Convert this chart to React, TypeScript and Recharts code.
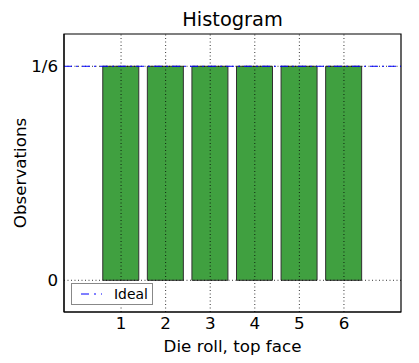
import React from "react";
import { ComposedChart, Bar, XAxis, YAxis, ReferenceLine, ReferenceArea } from "recharts";

const faces = [1, 2, 3, 4, 5, 6];
const observed = [1 / 6, 1 / 6, 1 / 6, 1 / 6, 1 / 6, 1 / 6];
const ideal = 1 / 6;
const yTicks = [0, 1 / 6];
const yTickLabels = ["0", "1/6"];
const xDomain = [-0.28, 7.28];
const yDomain = [-0.0247, 0.1918];

const data = faces.map((f, i) => ({ face: f, obs: observed[i] }));

const FONT = "'DejaVu Sans', sans-serif";

function IdealLegend() {
  return (
    <div
      style={{
        position: "absolute",
        left: 71,
        top: 283,
        width: 82,
        height: 22,
        border: "1px solid #888",
        background: "#fff",
        boxSizing: "border-box",
        fontFamily: FONT,
        fontSize: 13.9,
        display: "flex",
        alignItems: "center",
      }}
    >
      <svg width={34} height={10} style={{ marginLeft: 8 }}>
        <line x1={1} y1={5} x2={22} y2={5} stroke="#0000ff" strokeDasharray="8 5 2 5" />
      </svg>
      <span>Ideal</span>
    </div>
  );
}

export default function App() {
  return (
    <div style={{ position: "fixed", left: 0, top: 0, width: 419, height: 363, background: "#fff" }}>
      <div
        style={{
          position: "absolute",
          left: 64,
          width: 337,
          top: 8,
          textAlign: "center",
          fontFamily: FONT,
          fontSize: 19.4,
        }}
      >
        Histogram
      </div>
      <ComposedChart
        width={419}
        height={363}
        data={data}
        margin={{ top: 34, right: 18, left: 0, bottom: 0 }}
      >
        <XAxis
          dataKey="face"
          type="number"
          domain={xDomain}
          ticks={faces}
          allowDataOverflow
          height={51}
          tickLine={false}
          axisLine={{ stroke: "#000", strokeWidth: 1 }}
          tick={{ fill: "#000", fontSize: 16.7, fontFamily: FONT }}
          tickMargin={-1}
          label={{
            value: "Die roll, top face",
            position: "insideBottom",
            offset: 11,
            fill: "#000",
            fontSize: 16.7,
            fontFamily: FONT,
          }}
        />
        <YAxis
          type="number"
          domain={yDomain}
          ticks={yTicks}
          allowDataOverflow
          width={64}
          tickLine={false}
          axisLine={{ stroke: "#000", strokeWidth: 1 }}
          tick={{ fill: "#000", fontSize: 16.7, fontFamily: FONT }}
          tickMargin={0}
          tickFormatter={(v: number) => yTickLabels[yTicks.indexOf(v)] ?? ""}
          label={{
            value: "Observations",
            angle: -90,
            position: "insideLeft",
            offset: 20,
            style: { textAnchor: "middle" },
            fill: "#000",
            fontSize: 16.7,
            fontFamily: FONT,
          }}
        />
        <Bar
          dataKey="obs"
          name="Observed"
          barSize={36}
          fill="#40a040"
          stroke="#303030"
          strokeWidth={1}
          isAnimationActive={false}
        />
        {faces.map((f) => (
          <ReferenceLine key={`gx${f}`} x={f} stroke="#000" strokeWidth={0.8} strokeDasharray="1 2.5" />
        ))}
        {yTicks.map((t) => (
          <ReferenceLine key={`gy${t}`} y={t} stroke="#000" strokeWidth={0.8} strokeDasharray="1 2.5" />
        ))}
        <ReferenceLine y={ideal} stroke="#0000ff" strokeWidth={1} strokeDasharray="8 4 2 4" />
        <ReferenceArea
          x1={xDomain[0]}
          x2={xDomain[1]}
          y1={yDomain[0]}
          y2={yDomain[1]}
          fill="none"
          fillOpacity={0}
          stroke="#000"
          strokeWidth={1.2}
          ifOverflow="visible"
        />
      </ComposedChart>
      <IdealLegend />
    </div>
  );
}
